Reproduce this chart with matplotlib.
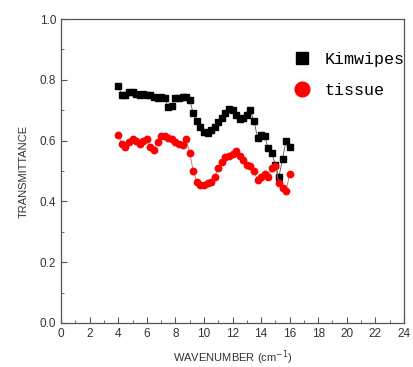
import matplotlib.pyplot as plt
from matplotlib.ticker import MultipleLocator

wavenumber = [4.0, 4.25, 4.5, 4.75, 5.0, 5.25, 5.5, 5.75, 6.0, 6.25, 6.5, 6.75,
              7.0, 7.25, 7.5, 7.75, 8.0, 8.25, 8.5, 8.75, 9.0, 9.25, 9.5, 9.75,
              10.0, 10.25, 10.5, 10.75, 11.0, 11.25, 11.5, 11.75, 12.0, 12.25,
              12.5, 12.75, 13.0, 13.25, 13.5, 13.75, 14.0, 14.25, 14.5, 14.75,
              15.0, 15.25, 15.5, 15.75, 16.0]

kimwipes = [0.78, 0.75, 0.75, 0.76, 0.76, 0.755, 0.75, 0.755, 0.75, 0.75, 0.745, 0.74,
            0.745, 0.74, 0.71, 0.715, 0.74, 0.74, 0.745, 0.745, 0.735, 0.69, 0.665, 0.645,
            0.63, 0.625, 0.635, 0.645, 0.66, 0.675, 0.69, 0.705, 0.70, 0.685,
            0.67, 0.675, 0.685, 0.70, 0.665, 0.61, 0.62, 0.615, 0.575, 0.56,
            0.52, 0.48, 0.54, 0.60, 0.58]

tissue = [0.62, 0.59, 0.58, 0.595, 0.605, 0.60, 0.59, 0.60, 0.605, 0.58, 0.57, 0.595,
          0.615, 0.615, 0.61, 0.605, 0.595, 0.59, 0.585, 0.605, 0.56, 0.50, 0.465, 0.455,
          0.455, 0.46, 0.465, 0.48, 0.51, 0.53, 0.545, 0.55, 0.555, 0.567,
          0.55, 0.535, 0.52, 0.515, 0.50, 0.47, 0.48, 0.49, 0.48, 0.51,
          0.515, 0.46, 0.445, 0.435, 0.49]

plt.rcParams['font.family'] = ['Liberation Sans', 'DejaVu Sans']

fig = plt.figure(figsize=(4.13, 3.67), dpi=100)
ax = fig.add_axes([0.148, 0.12, 0.83, 0.828])

ax.plot(wavenumber, kimwipes, color='#555555', lw=0.6, marker='s', ms=4.0,
        mfc='black', mec='black', label='Kimwipes')
ax.plot(wavenumber, tissue, color='#cc6666', lw=0.6, marker='o', ms=4.6,
        mfc='red', mec='red', label='tissue')

ax.set_xlim(0, 24)
ax.set_ylim(0, 1.0)
ax.xaxis.set_major_locator(MultipleLocator(2))
ax.xaxis.set_minor_locator(MultipleLocator(1))
ax.yaxis.set_major_locator(MultipleLocator(0.2))
ax.yaxis.set_minor_locator(MultipleLocator(0.1))
ax.yaxis.set_major_formatter(lambda v, p: f'{v:.1f}')

for s in ax.spines.values():
    s.set_color('#555555')
    s.set_linewidth(0.9)
ax.tick_params(which='both', direction='in', colors='#555555', labelsize=8.5,
               labelcolor='#333333')
ax.tick_params(which='major', length=4)
ax.tick_params(which='minor', length=2)

ax.set_xlabel('WAVENUMBER (cm$^{-1}$)', fontsize=8, color='#333333', labelpad=6)
ax.set_ylabel('TRANSMITTANCE', fontsize=8, color='#333333', labelpad=8)

leg = ax.legend(loc='upper left', bbox_to_anchor=(0.685, 0.892), frameon=False,
                prop={'family': 'Liberation Mono', 'size': 12},
                borderaxespad=0, borderpad=0,
                handlelength=0.7, handletextpad=1.0, labelspacing=0.95,
                markerscale=2.3)
for h in leg.legend_handles:
    h.set_linestyle('none')

plt.savefig('out.png', dpi=100)
